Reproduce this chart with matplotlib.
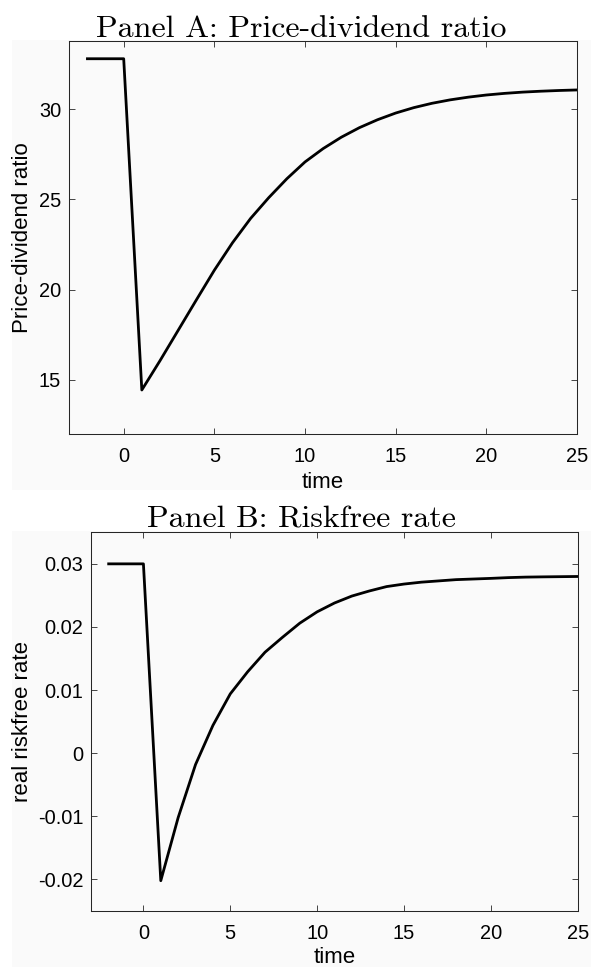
import matplotlib
matplotlib.use("Agg")
import matplotlib.pyplot as plt
from matplotlib.patches import Rectangle
from matplotlib.ticker import FuncFormatter


# time axis, steady state for t < 1, shock hits at t = 1
time = list(range(-2, 26))

# Panel A: price-dividend ratio
pd_ratio = [32.8, 32.8, 32.8,
            14.44, 16.06, 17.74, 19.42, 21.08, 22.6, 23.95, 25.1, 26.15,
            27.08, 27.82, 28.45, 28.98, 29.42, 29.79, 30.09, 30.33, 30.52,
            30.67, 30.79, 30.88, 30.95, 31.0, 31.04, 31.07]

# Panel B: real riskfree rate
rf_rate = [0.0300, 0.0300, 0.0300,
           -0.0202, -0.0102, -0.0018, 0.0044, 0.0094, 0.0129, 0.0160, 0.01835,
           0.0206, 0.0224, 0.0238, 0.0249, 0.0257, 0.0264, 0.0268, 0.0271,
           0.0273, 0.0275, 0.0276, 0.0277, 0.02782, 0.0279, 0.02794, 0.02797,
           0.0280]

x_ticks = [0, 5, 10, 15, 20, 25]
pd_ticks = [15, 20, 25, 30]
rf_ticks = [-0.02, -0.01, 0, 0.01, 0.02, 0.03]

W, H = 591, 967
BG = '#fafafa'
INK = '#262626'

plt.rcParams['font.family'] = ['Liberation Sans', 'DejaVu Sans']
plt.rcParams['axes.unicode_minus'] = False


def px_axes(fig, left, top, right, bottom):
    # axes box given in pixel coords of the picture (origin top-left)
    return fig.add_axes([left / W, 1 - bottom / H, (right - left) / W, (bottom - top) / H])


def style_axes(ax, xlim, ylim, yticks, ylabel, ylabel_x, xlabel_pad):
    ax.set_facecolor(BG)
    ax.set_xlim(*xlim)
    ax.set_ylim(*ylim)
    ax.set_xticks(x_ticks)
    ax.set_yticks(yticks)
    fmt = FuncFormatter(lambda v, pos: '{:g}'.format(round(v, 4)))
    ax.xaxis.set_major_formatter(fmt)
    ax.yaxis.set_major_formatter(fmt)
    ax.tick_params(direction='in', length=4.2, width=0.6, color=INK,
                   labelsize=14.4, labelcolor='black', top=True, right=True)
    ax.tick_params(axis='x', pad=9.3)
    ax.tick_params(axis='y', pad=5.8)
    for sp in ax.spines.values():
        sp.set_linewidth(0.75)
        sp.set_color(INK)
    ax.set_xlabel('time', fontsize=16, labelpad=xlabel_pad)
    ax.set_ylabel(ylabel, fontsize=16, va='center')
    ax.yaxis.set_label_coords(ylabel_x, 0.5)


fig = plt.figure(figsize=(W / 100, H / 100), dpi=100)
fig.patch.set_facecolor('white')

# the two panels sit on light grey tiles, as exported separately
fig.patches.append(Rectangle((12 / W, 1 - 490 / H), 579 / W, 450 / H,
                             transform=fig.transFigure, facecolor=BG,
                             edgecolor='none', zorder=-10))
fig.patches.append(Rectangle((12 / W, 0), 579 / W, 436 / H,
                             transform=fig.transFigure, facecolor=BG,
                             edgecolor='none', zorder=-10))

ax1 = px_axes(fig, 69.3, 40.7, 577, 434)
ax1.plot(time, pd_ratio, color='black', linewidth=2.0)
style_axes(ax1, (-3, 25), (12, 33.8), pd_ticks, 'Price-dividend ratio', -0.093, 4.5)

ax2 = px_axes(fig, 91.3, 532.3, 577.7, 911)
ax2.plot(time, rf_rate, color='black', linewidth=2.0)
style_axes(ax2, (-3, 25), (-0.025, 0.035), rf_ticks, 'real riskfree rate', -0.141, 3.0)

fig.text(301.5 / W, 1 - 36.7 / H, 'Panel A: Price-dividend ratio',
         ha='center', va='baseline', family='cmr10', fontsize=23)
fig.text(301.5 / W, 1 - 528 / H, 'Panel B: Riskfree rate',
         ha='center', va='baseline', family='cmr10', fontsize=23)

fig.savefig('out.png', dpi=100, facecolor='white')
